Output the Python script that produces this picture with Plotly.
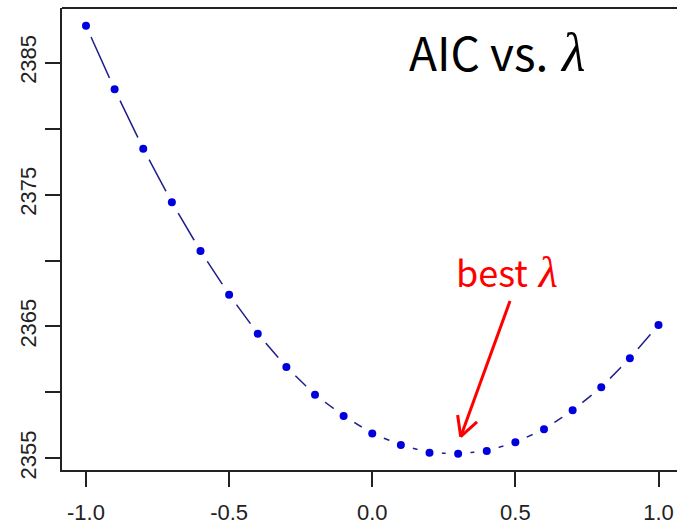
import math
import plotly.graph_objects as go

# Box-Cox lambda grid and the AIC of the fitted model at each value
lambdas = [-1.0, -0.9, -0.8, -0.7, -0.6, -0.5, -0.4, -0.3, -0.2, -0.1, 0.0,
           0.1, 0.2, 0.3, 0.4, 0.5, 0.6, 0.7, 0.8, 0.9, 1.0]
aic = [2387.80, 2382.98, 2378.48, 2374.41, 2370.72, 2367.41, 2364.45, 2361.92,
       2359.82, 2358.21, 2356.88, 2356.01, 2355.42, 2355.35, 2355.55, 2356.21,
       2357.20, 2358.64, 2360.38, 2362.58, 2365.11]

x_ticks = [-1.0, -0.5, 0.0, 0.5, 1.0]
x_ticktext = ["-1.0", "-0.5", "0.0", "0.5", "1.0"]
y_ticks = [2355, 2360, 2365, 2370, 2375, 2380, 2385]
y_ticktext = ["2355", "", "2365", "", "2375", "", "2385"]

W, H = 677, 526
L, T, B = 62, 8, 470          # plot-area edges in pixels
PW, PH = W - L, B - T


def px(x):
    return (x - L) / PW


def py(y):
    return (B - y) / PH


fig = go.Figure()

# connecting line (drawn first, then broken around each point)
fig.add_trace(go.Scatter(x=lambdas, y=aic, mode="lines",
                         line=dict(color="#1f1f8a", width=1.5),
                         hoverinfo="skip", showlegend=False))
# white halos leave the gaps of an R type="b" plot
fig.add_trace(go.Scatter(x=lambdas, y=aic, mode="markers",
                         marker=dict(color="white", size=25, line=dict(width=0)),
                         hoverinfo="skip", showlegend=False))
fig.add_trace(go.Scatter(x=lambdas, y=aic, mode="markers",
                         marker=dict(color="#0000dd", size=8, line=dict(width=0)),
                         showlegend=False))

axis_font = dict(family="Liberation Sans, Arial, sans-serif", size=22, color="#222")

fig.update_xaxes(range=[-1.0838, 1.0646], tickvals=x_ticks, ticktext=x_ticktext,
                 ticks="outside", ticklen=15, tickwidth=1.5, tickcolor="#222",
                 ticklabelstandoff=7, automargin=False,
                 showline=True, linecolor="#222", linewidth=2,
                 showgrid=False, zeroline=False, tickfont=axis_font)
fig.update_yaxes(range=[2354.113, 2389.147], tickvals=y_ticks, ticktext=y_ticktext,
                 ticks="outside", ticklen=15, tickwidth=1.5, tickcolor="#222",
                 tickangle=-90, automargin=False,
                 showline=True, linecolor="#222", linewidth=2,
                 showgrid=False, zeroline=False, tickfont=axis_font)

# top edge of the box
fig.add_shape(type="line", xref="paper", yref="paper", x0=0, x1=1, y0=1, y1=1,
              line=dict(color="#222", width=2))

# arrow pointing at the best lambda
tail = (510, 301)
tip = (460.7, 436.7)
fig.add_shape(type="line", xref="paper", yref="paper",
              x0=px(tail[0]), y0=py(tail[1]), x1=px(tip[0]), y1=py(tip[1]),
              line=dict(color="#ff0000", width=3))
dx, dy = tail[0] - tip[0], tail[1] - tip[1]
n = math.hypot(dx, dy)
ux, uy = dx / n, dy / n
for ang in (28, -28):
    a = math.radians(ang)
    rx = ux * math.cos(a) - uy * math.sin(a)
    ry = ux * math.sin(a) + uy * math.cos(a)
    ex, ey = tip[0] + 22 * rx, tip[1] + 22 * ry
    fig.add_shape(type="line", xref="paper", yref="paper",
                  x0=px(tip[0]), y0=py(tip[1]), x1=px(ex), y1=py(ey),
                  line=dict(color="#ff0000", width=3))


def lam(size):
    return ('<span style="font-family:Liberation Serif, serif;font-size:%dpx">'
            ' <i>λ</i></span>' % size)


fig.add_annotation(xref="paper", yref="paper", x=px(407), y=py(51),
                   xanchor="left", yanchor="middle", showarrow=False,
                   text="AIC vs." + lam(54),
                   font=dict(family="Noto Sans CJK JP, Noto Sans, sans-serif",
                             size=46, color="black"))
fig.add_annotation(xref="paper", yref="paper", x=px(454), y=py(271),
                   xanchor="left", yanchor="middle", showarrow=False,
                   text="best" + lam(44),
                   font=dict(family="Noto Sans CJK JP, Noto Sans, sans-serif",
                             size=36, color="#ff0000"))

fig.update_layout(width=W, height=H, margin=dict(l=L, r=0, t=T, b=H - B),
                  plot_bgcolor="white", paper_bgcolor="white")

fig.write_html("out.html")
